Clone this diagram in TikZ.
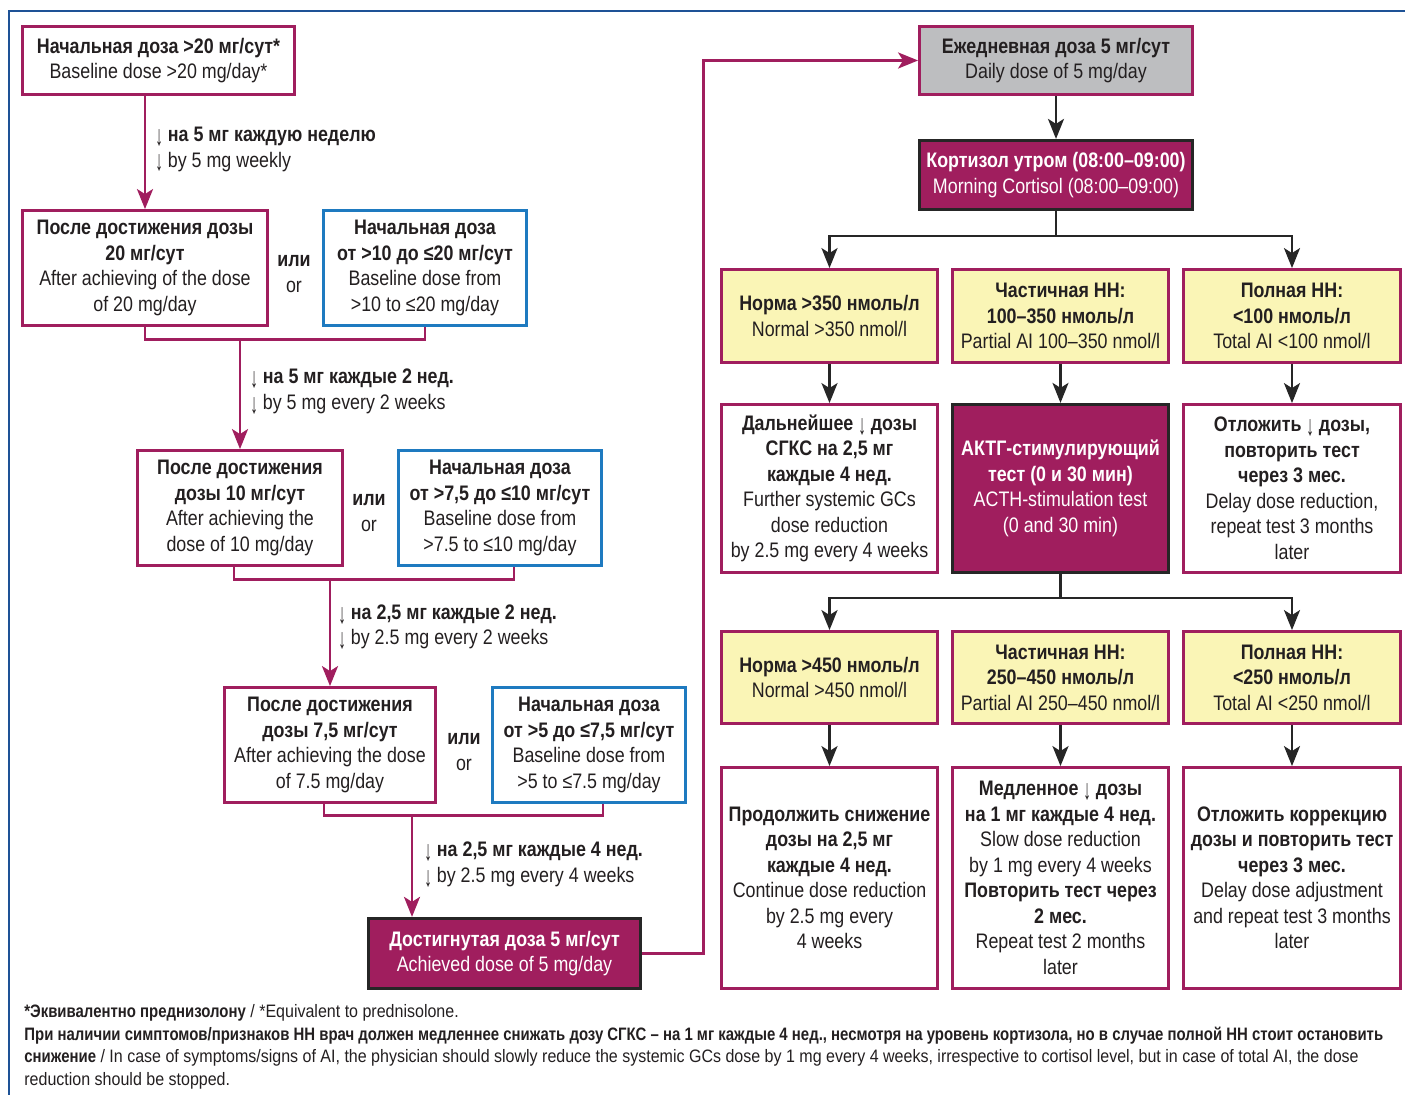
\documentclass[tikz,border=0pt]{standalone}
\usepackage{fontspec}
\setmainfont[FakeStretch=0.85]{Liberation Sans}
\newfontfamily\notefont[FakeStretch=0.89, BoldFeatures={FakeStretch=0.83}]{Liberation Sans}
\usetikzlibrary{arrows.meta,calc}
\definecolor{mag}{RGB}{160,30,94}
\definecolor{blu}{RGB}{30,122,192}
\definecolor{frameblu}{RGB}{30,82,150}
\definecolor{yel}{RGB}{250,245,182}
\definecolor{gry}{RGB}{189,190,192}
\definecolor{txt}{RGB}{35,31,32}
\newcommand{\bxfont}{\fontsize{10.5pt}{12.75pt}\selectfont}
\newcommand{\ftfont}{\notefont\fontsize{9pt}{11.35pt}\selectfont}
\newcommand{\dn}{\raisebox{-0.35ex}{\scalebox{0.85}[1.35]{\mdseries ↓}}}

\begin{document}
\begin{tikzpicture}[x=0.5pt, y=-0.5pt,
  box/.style={draw=mag, line width=1.4pt, fill=white, text=txt, align=center, inner sep=0pt, font=\bxfont},
  bluebox/.style={box, draw=blu},
  yelbox/.style={box, fill=yel},
  greybox/.style={box, fill=gry},
  darkbox/.style={box, draw=black!85, line width=1.6pt, fill=mag, text=white},
  boxsize/.style 2 args={minimum width=#1*0.5pt, minimum height=#2*0.5pt},
  ortext/.style={align=center, text=txt, font=\bxfont, inner sep=0pt},
  steplabel/.style={anchor=west, align=left, text=txt, font=\bxfont, inner sep=0pt},
  magline/.style={draw=mag, line width=1.4pt},
  magarrow/.style={magline, -{Stealth[length=10pt, width=8pt, inset=2.5pt]}},
  blkline/.style={draw=black!85, line width=1.2pt},
  blkarrow/.style={blkline, -{Stealth[length=10pt, width=8pt, inset=2.5pt]}}]
\useasboundingbox (0,0) rectangle (1405,1095);
% cadre
\draw[frameblu, line width=1pt] (9,1095) -- (9,11) -- (1405,11);

% colonne de gauche : paliers de dose
\node[box, boxsize={272}{68}] (A) at (158.5,60.5) {\textbf{Начальная доза >20 мг/сут*}\\Baseline dose >20 mg/day*};
\node[box, boxsize={245}{115}] (B) at (145,268) {\textbf{После достижения дозы}\\\textbf{20 мг/сут}\\After achieving of the dose\\of 20 mg/day};
\node[bluebox, boxsize={203}{115}] (B2) at (425,268) {\textbf{Начальная доза}\\\textbf{от >10 до ≤20 мг/сут}\\Baseline dose from\\>10 to ≤20 mg/day};
\node[ortext] (or1) at (294,274) {\textbf{или}\\or};
\node[box, boxsize={205}{115}] (C) at (240,508) {\textbf{После достижения}\\\textbf{дозы 10 мг/сут}\\After achieving the\\dose of 10 mg/day};
\node[bluebox, boxsize={203}{115}] (C2) at (500,508) {\textbf{Начальная доза}\\\textbf{от >7,5 до ≤10 мг/сут}\\Baseline dose from\\>7.5 to ≤10 mg/day};
\node[ortext] (or2) at (369,513) {\textbf{или}\\or};
\node[box, boxsize={211}{115}] (D) at (330,745) {\textbf{После достижения}\\\textbf{дозы 7,5 мг/сут}\\After achieving the dose\\of 7.5 mg/day};
\node[bluebox, boxsize={193}{115}] (D2) at (589,745) {\textbf{Начальная доза}\\\textbf{от >5 до ≤7,5 мг/сут}\\Baseline dose from\\>5 to ≤7.5 mg/day};
\node[ortext] (or3) at (464,752) {\textbf{или}\\or};
\node[darkbox, boxsize={272}{70}] (E) at (504.5,953.5) {\textbf{Достигнутая доза 5 мг/сут}\\Achieved dose of 5 mg/day};

\draw[magarrow] (A.south -| B.north) -- (B.north);
\node[steplabel] (l1) at (155,149.5) {\dn\ \textbf{на 5 мг каждую неделю}\\\dn\ by 5 mg weekly};
\draw[magline] (B.south) -- ++(0,13) coordinate (b1) -| (B2.south);
\draw[magarrow] (b1 -| C.north) -- (C.north);
\node[steplabel] (l2) at (250,391.5) {\dn\ \textbf{на 5 мг каждые 2 нед.}\\\dn\ by 5 mg every 2 weeks};
\draw[magline] ([xshift=-3pt]C.south) -- ++(0,13) coordinate (c1) -| ([xshift=7pt]C2.south);
\draw[magarrow] (c1 -| D.north) -- (D.north);
\node[steplabel] (l3) at (338,627) {\dn\ \textbf{на 2,5 мг каждые 2 нед.}\\\dn\ by 2.5 mg every 2 weeks};
\draw[magline] ([xshift=-3pt]D.south) -- ++(0,12) coordinate (d1) -| ([xshift=7pt]D2.south);
\coordinate (eIn) at ([xshift=-46.25pt]E.north);
\draw[magarrow] (d1 -| eIn) -- (eIn);
\node[steplabel] (l4) at (424,864.5) {\dn\ \textbf{на 2,5 мг каждые 4 нед.}\\\dn\ by 2.5 mg every 4 weeks};

% colonne de droite : cortisol et test
\node[greybox, boxsize={273}{68}] (F) at (1056,60.5) {\textbf{Ежедневная доза 5 мг/сут}\\Daily dose of 5 mg/day};
\node[darkbox, boxsize={273}{69}] (G) at (1056,175) {\textbf{Кортизол утром (08:00–09:00)}\\Morning Cortisol (08:00–09:00)};
\draw[blkarrow] (F.south) -- (G.north);
% retour vers la dose quotidienne
\draw[magarrow] (E.east) -- ++(61,0) |- (F.west);

\node[yelbox, boxsize={216}{93}] (H1) at (829.5,316) {\textbf{Норма >350 нмоль/л}\\Normal >350 nmol/l};
\node[yelbox, boxsize={216}{93}] (H2) at (1060.5,316) {\textbf{Частичная НН:}\\\textbf{100–350 нмоль/л}\\Partial AI 100–350 nmol/l};
\node[yelbox, boxsize={217}{93}] (H3) at (1292,316) {\textbf{Полная НН:}\\\textbf{<100 нмоль/л}\\Total AI <100 nmol/l};

\node[box, boxsize={216}{168}] (I1) at (829.5,488.5) {\textbf{Дальнейшее \dn\ дозы}\\\textbf{СГКС на 2,5 мг}\\\textbf{каждые 4 нед.}\\Further systemic GCs\\dose reduction\\by 2.5 mg every 4 weeks};
\node[darkbox, boxsize={216}{168}] (I2) at (1060.5,488.5) {\textbf{АКТГ-стимулирующий}\\\textbf{тест (0 и 30 мин)}\\ACTH-stimulation test\\(0 and 30 min)};
\node[box, boxsize={217}{168}] (I3) at (1292,488.5) {\textbf{Отложить \dn\ дозы,}\\\textbf{повторить тест}\\\textbf{через 3 мес.}\\Delay dose reduction,\\repeat test 3 months\\later};

\node[yelbox, boxsize={216}{92}] (J1) at (829.5,677.5) {\textbf{Норма >450 нмоль/л}\\Normal >450 nmol/l};
\node[yelbox, boxsize={216}{92}] (J2) at (1060.5,677.5) {\textbf{Частичная НН:}\\\textbf{250–450 нмоль/л}\\Partial AI 250–450 nmol/l};
\node[yelbox, boxsize={217}{92}] (J3) at (1292,677.5) {\textbf{Полная НН:}\\\textbf{<250 нмоль/л}\\Total AI <250 nmol/l};

\node[box, boxsize={216}{221}] (K1) at (829.5,878) {\textbf{Продолжить снижение}\\\textbf{дозы на 2,5 мг}\\\textbf{каждые 4 нед.}\\Continue dose reduction\\by 2.5 mg every\\4 weeks};
\node[box, boxsize={216}{221}] (K2) at (1060.5,878) {\textbf{Медленное \dn\ дозы}\\\textbf{на 1 мг каждые 4 нед.}\\Slow dose reduction\\by 1 mg every 4 weeks\\\textbf{Повторить тест через}\\\textbf{2 мес.}\\Repeat test 2 months\\later};
\node[box, boxsize={217}{221}] (K3) at (1292,878) {\textbf{Отложить коррекцию}\\\textbf{дозы и повторить тест}\\\textbf{через 3 мес.}\\Delay dose adjustment\\and repeat test 3 months\\later};

% branchements
\draw[blkline] (G.south) -- ++(0,25) coordinate (g1);
\draw[blkarrow] (g1) -| (H1.north);
\draw[blkarrow] (g1) -| (H3.north);
\draw[blkline] (I2.south) -- ++(0,24) coordinate (i1);
\draw[blkarrow] (i1) -| (J1.north);
\draw[blkarrow] (i1) -| (J3.north);
\foreach \c in {1,2,3} {
  \draw[blkarrow] (H\c.south) -- (I\c.north);
  \draw[blkarrow] (J\c.south) -- (K\c.north);
}

% notes
\node[anchor=north west, align=left, text=txt, font=\ftfont, inner sep=0pt] (fn) at (24,1004) {\textbf{*Эквивалентно преднизолону} / *Equivalent to prednisolone.\\
\textbf{При наличии симптомов/признаков НН врач должен медленнее снижать дозу СГКС – на 1 мг каждые 4 нед., несмотря на уровень кортизола, но в случае полной НН стоит остановить}\\
\textbf{снижение} / In case of symptoms/signs of AI, the physician should slowly reduce the systemic GCs dose by 1 mg every 4 weeks, irrespective to cortisol level, but in case of total AI, the dose\\
reduction should be stopped.};
\end{tikzpicture}
\end{document}
